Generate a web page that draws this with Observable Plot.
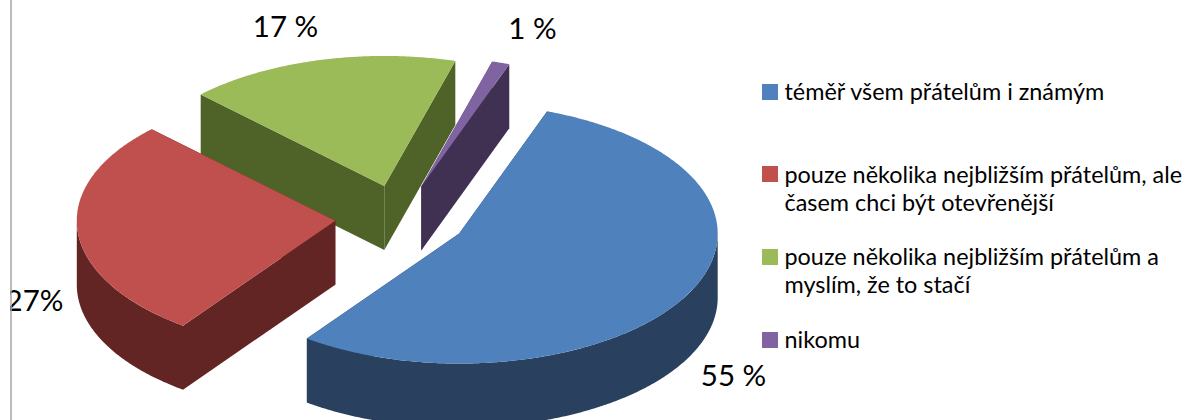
<!DOCTYPE html>
<html>
<head>
<meta charset="utf-8">
<script src="https://cdn.jsdelivr.net/npm/d3@7"></script>
<script src="https://cdn.jsdelivr.net/npm/@observablehq/plot@0.6"></script>
<style>
html,body{margin:0;padding:0;background:#fff;overflow:hidden}
svg{display:block}
</style>
</head>
<body>
<div id="chart"></div>
<script>
// Data
const categories = [
  "téměř všem přátelům i známým",
  "pouze několika nejbližším přátelům, ale\nčasem chci být otevřenější",
  "pouze několika nejbližším přátelům a\nmyslím, že to stačí",
  "nikomu"
];
const shares = [54.5, 27.4, 17.0, 1.1];
const valueLabels = ["55 %", "27%", "17 %", "1 %"];
const topColors = ["#4F81BD", "#C0504D", "#9BBB59", "#8064A2"];
const sideColors = ["#29415F", "#632523", "#4F6228", "#403152"];

// 3D pie layout
const W = 1199, H = 420;
const cx = 400.5, cy = 217.5, rx = 258.5, ry = 130, depth = 64, explode = 0.255;
const firstAngle = 19.9;
const rad = Math.PI / 180;
const pt = (c, t, dz = 0, r = 1) => ({
  x: c.x + r * rx * Math.sin(t * rad),
  y: c.y - r * ry * Math.cos(t * rad) + dz
});

const total = d3.sum(shares);
let acc = firstAngle;
const slices = shares.map((v, i) => {
  const a0 = acc, a1 = acc + v / total * 360;
  acc = a1;
  const mid = (a0 + a1) / 2;
  const c = pt({x: cx, y: cy}, mid, 0, explode);
  return {i, a0, a1, c};
});

function arcPts(c, a0, a1, dz) {
  const n = Math.max(2, Math.ceil(Math.abs(a1 - a0) * 2));
  return d3.range(n + 1).map(k => pt(c, a0 + (a1 - a0) * k / n, dz));
}

const faces = [];
const add = (id, color, pts) => pts.forEach(p => faces.push({id, color, x: p.x, y: p.y}));
// painter's order: back to front
[2, 3, 1, 0].forEach(i => {
  const {a0, a1, c} = slices[i];
  const side = sideColors[i], top = topColors[i];
  const apex = {x: c.x, y: c.y};
  [a0, a1].forEach((a, k) => {
    const rim = pt(c, a), rimD = pt(c, a, depth);
    add(`r${i}${k}`, side, [apex, rim, rimD, {x: apex.x, y: apex.y + depth}]);
  });
  const v0 = Math.max(a0, 90), v1 = Math.min(a1, 270);
  if (v1 > v0) add(`o${i}`, side, [...arcPts(c, v0, v1, 0), ...arcPts(c, v1, v0, depth)]);
  add(`t${i}`, top, [apex, ...arcPts(c, a0, a1, 0)]);
});

// value labels
const valueRows = valueLabels.map((label, i) => ({label, x: [733, 34, 285, 532][i], y: [376, 301, 27, 29][i]}));
// legend rows
const legendRows = categories.map((label, i) => ({label, i, top: [84, 166, 249, 332][i], base: [99, 210.7, 292.7, 347.7][i]}));

const chart = Plot.plot({
  width: W, height: H,
  margin: 0,
  x: {domain: [0, W], range: [0, W], axis: null},
  y: {domain: [0, H], range: [0, H], axis: null},
  color: {type: "identity"},
  style: {background: "#fff", fontFamily: "Lato, sans-serif", color: "#000"},
  marks: [
    Plot.line(faces, {x: "x", y: "y", z: "id", fill: "color", stroke: "none", curve: "linear-closed"}),
    Plot.text(valueRows, {x: "x", y: "y", text: "label", fontSize: 29.5, fill: "#000", textAnchor: "middle", lineAnchor: "middle"}),
    Plot.rect([{x1: 0, x2: 10, y1: 0, y2: H}], {x1: "x1", x2: "x2", y1: "y1", y2: "y2", fill: "#fff", inset: 0}),
    Plot.ruleX([10.5], {stroke: "#A6A6A6", strokeWidth: 1.5}),
    Plot.rect(legendRows, {x1: () => 762, x2: () => 778, y1: "top", y2: d => d.top + 16, fill: d => topColors[d.i], inset: 0}),
    Plot.text(legendRows, {x: () => 784, y: "base", text: "label", fontSize: 23.4, fill: "#000", textAnchor: "start", lineAnchor: "bottom", lineHeight: 1.22})
  ]
});
document.getElementById("chart").append(chart);
</script>
</body>
</html>
